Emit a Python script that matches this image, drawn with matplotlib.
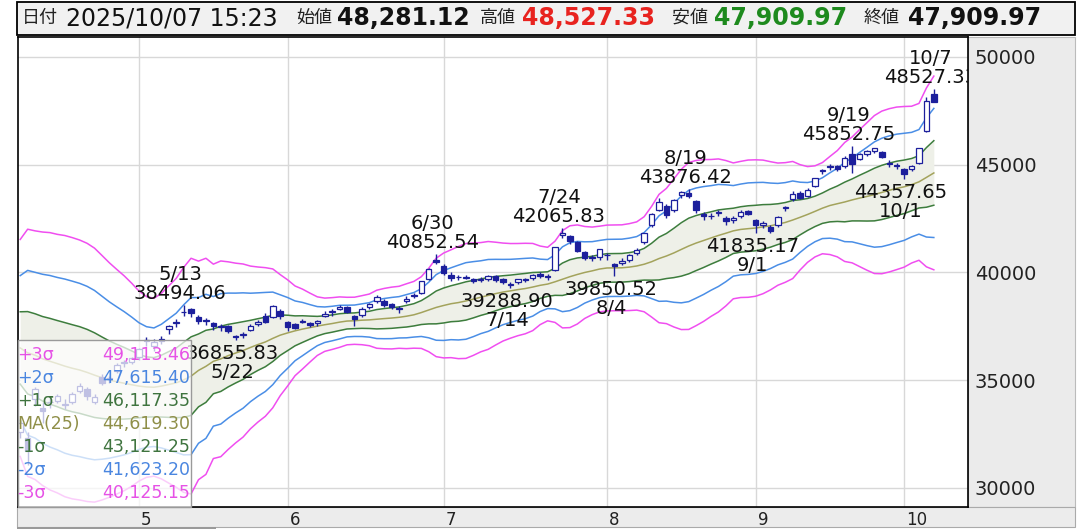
import numpy as np
import pandas as pd
import matplotlib
matplotlib.use("Agg")
import matplotlib.pyplot as plt
from matplotlib.patches import Rectangle

plt.rcParams['font.family'] = ['DejaVu Sans', 'Noto Sans CJK JP']

# daily candles 2025/4/8 - 2025/10/7
dates = ["4/8", "4/9", "4/10", "4/11", "4/14", "4/15", "4/16", "4/17", "4/18", "4/21",
         "4/22", "4/23", "4/24", "4/25", "4/28", "4/30", "5/1", "5/2", "5/7", "5/8",
         "5/9", "5/12", "5/13", "5/14", "5/15", "5/16", "5/19", "5/20", "5/21", "5/22",
         "5/23", "5/26", "5/27", "5/28", "5/29", "5/30", "6/2", "6/3", "6/4", "6/5",
         "6/6", "6/9", "6/10", "6/11", "6/12", "6/13", "6/16", "6/17", "6/18", "6/19",
         "6/20", "6/23", "6/24", "6/25", "6/26", "6/27", "6/30", "7/1", "7/2", "7/3",
         "7/4", "7/7", "7/8", "7/9", "7/10", "7/11", "7/14", "7/15", "7/16", "7/17",
         "7/18", "7/22", "7/23", "7/24", "7/25", "7/28", "7/29", "7/30", "7/31", "8/1",
         "8/4", "8/5", "8/6", "8/7", "8/8", "8/12", "8/13", "8/14", "8/15", "8/18",
         "8/19", "8/20", "8/21", "8/22", "8/25", "8/26", "8/27", "8/28", "8/29", "9/1",
         "9/2", "9/3", "9/4", "9/5", "9/8", "9/9", "9/10", "9/11", "9/12", "9/16",
         "9/17", "9/18", "9/19", "9/22", "9/24", "9/25", "9/26", "9/29", "9/30", "10/1",
         "10/2", "10/3", "10/6", "10/7"]
opens = [32600, 32300, 34150, 33700, 34000, 34050, 33850, 34000, 34500, 34600,
         34000, 35150, 35100, 35450, 35800, 35850, 36100, 36850, 36600, 36800,
         37400, 37700, 38150, 38300, 37950, 37800, 37650, 37450, 37500, 37050,
         37100, 37350, 37600, 38000, 37950, 38200, 37700, 37600, 37700, 37650,
         37650, 38000, 38150, 38300, 38400, 38000, 38050, 38400, 38700, 38700,
         38550, 38300, 38700, 38900, 39050, 39700, 40600, 40300, 39900, 39800,
         39750, 39700, 39650, 39700, 39850, 39700, 39400, 39550, 39700, 39750,
         39950, 39850, 40100, 41750, 41700, 41400, 40950, 40700, 40700, 40800,
         40400, 40450, 40600, 40900, 41400, 42200, 42900, 43100, 42900, 43600,
         43700, 43300, 42700, 42600, 42750, 42550, 42450, 42600, 42850, 42450,
         42200, 42100, 42200, 43000, 43400, 43700, 43550, 44000, 44700, 44950,
         44950, 44950, 45500, 45250, 45500, 45650, 45600, 45100, 45000, 44800,
         44800, 45100, 46550, 48281.12]
highs = [33150, 32580, 34700, 34000, 34200, 34350, 34150, 34450, 34850, 34700,
         34350, 35300, 35200, 35800, 35950, 36100, 36500, 37000, 36900, 37050,
         37550, 37850, 38494.06, 38350, 38050, 37900, 37700, 37600, 37550, 37100,
         37250, 37600, 37800, 38100, 38480, 38300, 37750, 37650, 37850, 37700,
         37800, 38200, 38300, 38500, 38450, 38050, 38400, 38600, 38950, 38750,
         38600, 38450, 38900, 39050, 39600, 40200, 40852.54, 40400, 40000, 39900,
         39900, 39750, 39800, 39900, 39900, 39750, 39550, 39700, 39750, 39950,
         40000, 39950, 41200, 42065.83, 41750, 41450, 41000, 40800, 41100, 40900,
         40450, 40650, 40850, 41150, 41850, 42750, 43450, 43200, 43400, 43800,
         43876.42, 43350, 42800, 42750, 42900, 42600, 42600, 42900, 42900, 42500,
         42400, 42200, 42600, 43100, 43800, 43800, 43900, 44400, 44800, 45050,
         45000, 45400, 45852.75, 45550, 45700, 45800, 45650, 45200, 45100, 44850,
         45000, 45800, 48150, 48527.33]
lows = [32330, 31064, 33800, 33020, 33700, 33950, 33650, 33900, 34400, 34100,
        33900, 34800, 34850, 35350, 35600, 35750, 35950, 36600, 36350, 36700,
        37150, 37450, 38000, 37950, 37600, 37550, 37350, 37300, 37200, 36855.83,
        36950, 37300, 37500, 37650, 37900, 37850, 37300, 37400, 37650, 37450,
        37500, 37950, 38000, 38250, 38100, 37540, 37950, 38300, 38600, 38400,
        38300, 38100, 38600, 38800, 39000, 39650, 40380, 39900, 39600, 39650,
        39700, 39500, 39550, 39600, 39550, 39450, 39288.90, 39450, 39550, 39650,
        39750, 39650, 40050, 41600, 41300, 40950, 40600, 40550, 40600, 40600,
        39850.52, 40350, 40500, 40800, 41300, 42100, 42850, 42550, 42800, 43450,
        43450, 42750, 42450, 42500, 42600, 42200, 42300, 42550, 42650, 41835.17,
        42050, 41850, 42100, 42850, 43300, 43400, 43500, 43950, 44550, 44750,
        44700, 44850, 44600, 45200, 45400, 45550, 45300, 44900, 44800, 44357.65,
        44700, 45050, 46500, 47909.97]
closes = [33012.58, 31714.03, 34609.00, 33585.58, 33982.36, 34267.54, 33920.40, 34377.60, 34730.28, 34279.92,
          34220.60, 34868.63, 35039.15, 35705.74, 35839.99, 36045.38, 36452.30, 36830.69, 36779.66, 36928.63,
          37503.33, 37644.26, 38183.26, 38128.13, 37755.51, 37753.72, 37498.63, 37529.49, 37298.98, 36985.87,
          37160.47, 37531.53, 37724.11, 37722.40, 38432.98, 37965.10, 37470.67, 37446.81, 37747.45, 37554.49,
          37741.61, 38088.57, 38211.51, 38421.19, 38173.09, 37834.25, 38311.33, 38536.74, 38885.15, 38488.34,
          38403.23, 38354.09, 38790.56, 38942.07, 39584.58, 40150.79, 40487.39, 39986.33, 39762.48, 39785.90,
          39810.88, 39587.68, 39688.81, 39821.28, 39646.36, 39569.68, 39459.62, 39678.02, 39663.40, 39901.19,
          39819.11, 39774.92, 41171.32, 41826.34, 41456.23, 40998.27, 40674.55, 40654.70, 41069.82, 40799.60,
          40290.70, 40549.54, 40794.86, 41059.15, 41820.48, 42718.17, 43274.67, 42649.26, 43378.31, 43714.31,
          43546.29, 42888.55, 42610.17, 42633.29, 42807.82, 42394.40, 42520.27, 42828.79, 42718.47, 42188.79,
          42310.49, 41938.89, 42580.27, 43018.75, 43643.81, 43459.29, 43837.67, 44372.50, 44768.12, 44902.27,
          44790.38, 45303.43, 45045.81, 45493.66, 45630.31, 45754.93, 45354.99, 45043.75, 44932.63, 44550.85,
          44936.73, 45769.50, 47944.76, 47909.97]

# closes of the 24 sessions before 4/8 (3/4 - 4/7), for the 25 day window
warmup_closes = [37331.18, 37418.24, 37704.93, 36887.17, 37028.27, 36793.11, 36819.09, 36790.03,
                 37053.10, 37396.52, 37845.42, 37751.88, 37677.06, 37608.49, 37780.54, 38027.29,
                 37799.97, 37120.33, 35617.56, 35624.48, 35725.87, 34735.93, 33780.58, 31136.58]

quote_time = "2025/10/07 15:23"

month_starts = ["5/1", "6/2", "7/1", "8/1", "9/1", "10/1"]
month_labels = ["5", "6", "7", "8", "9", "10"]

peak_dates = ["5/13", "6/30", "7/24", "8/19", "9/19", "10/7"]
trough_dates = ["5/22", "7/14", "8/4", "9/1", "10/1"]

band_names = ["+3σ", "+2σ", "+1σ", "MA(25)", "-1σ", "-2σ", "-3σ"]
band_k = [3, 2, 1, 0, -1, -2, -3]
band_last = [49113.46, 47615.40, 46117.35, 44619.30, 43121.25, 41623.20, 40125.15]
band_colors = ["#f04ef0", "#4a8ee6", "#3d7d3d", "#a3a35c", "#3d7d3d", "#4a8ee6", "#f04ef0"]
legend_colors = ["#e652e6", "#4a86e0", "#3f743f", "#8f8f48", "#3f743f", "#4a86e0", "#e652e6"]

navy = "#1c1f9c"

W, H = 1077, 529
fig = plt.figure(figsize=(W / 100, H / 100), dpi=100)


def fx(px):
    return px / W


def fy(py):
    return 1 - py / H


# main chart area in pixels: x 18-968, y 37-507
ax = fig.add_axes([fx(18), fy(507), (968 - 18) / W, (507 - 37) / H])

x = np.arange(len(dates))
s = pd.Series(warmup_closes + closes)
ma = s.rolling(25).mean().values[len(warmup_closes):]
sd = s.rolling(25).std(ddof=0).values[len(warmup_closes):]

ax.fill_between(x, ma - sd, ma + sd, color="#eef0e8", lw=0, zorder=1)
for k, col in zip(band_k, band_colors):
    ax.plot(x, ma + k * sd, color=col, lw=1.1, zorder=2)

o = np.array(opens, dtype=float)
h = np.array(highs, dtype=float)
l = np.array(lows, dtype=float)
c = np.array(closes, dtype=float)
up = c >= o
ax.vlines(x, l, h, color=navy, lw=1, zorder=3)
ax.bar(x[up], (c - o)[up], bottom=o[up], width=0.74, facecolor="white",
       edgecolor=navy, lw=0.9, zorder=4)
ax.bar(x[~up], (o - c)[~up], bottom=c[~up], width=0.74, facecolor=navy,
       edgecolor=navy, lw=0.9, zorder=4)

ax.set_xlim(-0.3, 127.6)
ax.set_ylim(29118, 50928)
ax.set_yticks([30000, 35000, 40000, 45000, 50000])
ax.yaxis.tick_right()
ax.tick_params(axis="y", length=0, pad=5, labelsize=14, labelcolor="#222222")
tick_idx = [dates.index(d) for d in month_starts]
ax.set_xticks(tick_idx)
ax.set_xticklabels([])
ax.tick_params(axis="x", length=0)
ax.grid(True, color="#d8d8d8", lw=1)
ax.set_axisbelow(True)
for sp in ax.spines.values():
    sp.set_color("black")
    sp.set_linewidth(1.2)

# month labels in the bottom strip
for i, lab in zip(tick_idx, month_labels):
    ax.annotate(lab, (i, 0), xycoords=("data", "axes fraction"), xytext=(1.5, -3),
                textcoords="offset points", ha="left", va="top", fontsize=12,
                color="#222222", annotation_clip=False)

# swing high / low labels, clipped at the chart frame
for d in peak_dates:
    i = dates.index(d)
    t = ax.annotate(f"{d}\n{highs[i]:.2f}", (i, highs[i]), xytext=(-2.5, 1.5),
                    textcoords="offset points", ha="center", va="bottom",
                    fontsize=14, linespacing=1.0, color="#111111", zorder=6)
    t.set_clip_box(ax.bbox)
    t.set_clip_on(True)
for d in trough_dates:
    i = dates.index(d)
    t = ax.annotate(f"{lows[i]:.2f}\n{d}", (i, lows[i]), xytext=(-2.5, -3),
                    textcoords="offset points", ha="center", va="top",
                    fontsize=14, linespacing=1.0, color="#111111", zorder=6)
    t.set_clip_box(ax.bbox)
    t.set_clip_on(True)


def ax_x(px):
    return (px - 18) / 950


def ax_y(py):
    return (507 - py) / 470


# bollinger legend box (semi transparent)
ax.add_patch(Rectangle((0, 0), ax_x(191), ax_y(340), transform=ax.transAxes,
                       facecolor=(1, 1, 1, 0.72), edgecolor="#9a9a9a", lw=1,
                       zorder=8, clip_on=False))
for k, (name, val, col) in enumerate(zip(band_names, band_last, legend_colors)):
    yy = ax_y(355 + 23 * k)
    ax.text(ax_x(17), yy, name, transform=ax.transAxes, ha="left", va="center",
            fontsize=12.5, color=col, zorder=9)
    ax.text(ax_x(190), yy, f"{val:,.2f}", transform=ax.transAxes, ha="right",
            va="center", fontsize=12.5, color=col, zorder=9)

# gray panels: price axis, month strip, header
fig.add_artist(Rectangle((fx(968), fy(507)), (1075 - 968) / W, 470 / H,
                         transform=fig.transFigure, facecolor="#ebebeb",
                         edgecolor="#bbbbbb", lw=0.8, zorder=-1))
fig.add_artist(Rectangle((fx(17), fy(527)), (1075 - 17) / W, 20 / H,
                         transform=fig.transFigure, facecolor="#ececec",
                         edgecolor="#aaaaaa", lw=0.8, zorder=-1))
fig.add_artist(Rectangle((fx(17), fy(529)), (216 - 17) / W, 2.5 / H,
                         transform=fig.transFigure, facecolor="#9a9a9a",
                         edgecolor="none", zorder=-1))
fig.add_artist(Rectangle((fx(17), fy(35)), (1075 - 17) / W, 33 / H,
                         transform=fig.transFigure, facecolor="#f1f1f1",
                         edgecolor="black", lw=1.3, zorder=-1))

hy = fy(18)
header = [
    ("日付", 22, 13, "normal", "#222222"),
    (quote_time, 66, 17, "normal", "#111111"),
    ("始値", 296, 13, "normal", "#222222"),
    (f"{opens[-1]:,.2f}", 337, 17, "bold", "#111111"),
    ("高値", 480, 13, "normal", "#222222"),
    (f"{highs[-1]:,.2f}", 522, 17, "bold", "#e8231f"),
    ("安値", 672, 13, "normal", "#222222"),
    (f"{lows[-1]:,.2f}", 714, 17, "bold", "#1e8a1e"),
    ("終値", 864, 13, "normal", "#222222"),
    (f"{closes[-1]:,.2f}", 908, 17, "bold", "#111111"),
]
for txt, px, size, weight, col in header:
    fig.text(fx(px), hy, txt, ha="left", va="center", fontsize=size,
             fontweight=weight, color=col)

fig.savefig("out.png", dpi=100, facecolor="white")
